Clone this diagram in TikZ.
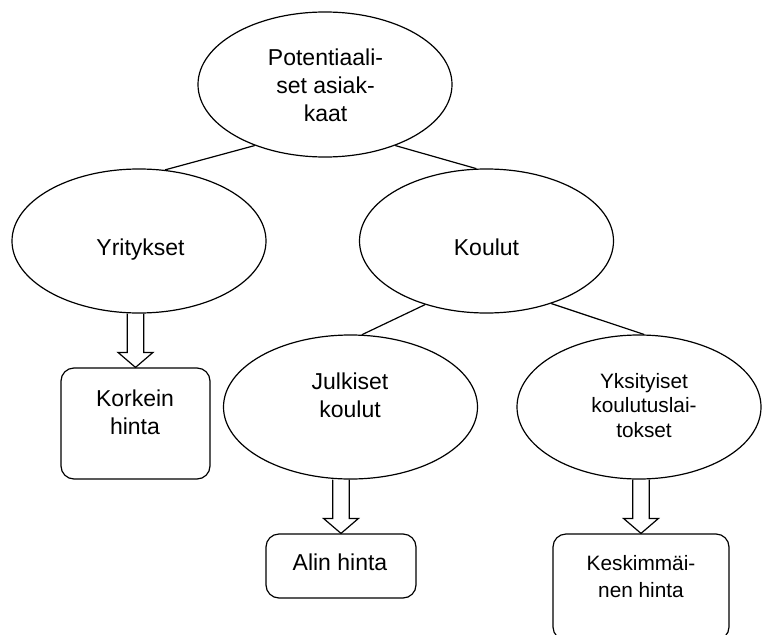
\documentclass[tikz,border=0pt]{standalone}
\usepackage{fontspec}
\setmainfont{Liberation Sans}
\usetikzlibrary{shapes.geometric,calc}
\tikzset{
  ell/.style={draw, ellipse, line width=1.2pt, inner sep=0pt, minimum width=254pt, minimum height=144pt},
  rbox/.style={draw, rectangle, rounded corners=13pt, line width=1.2pt, inner sep=0pt},
  lbl/.style={anchor=base, align=center, inner sep=0pt, font=\fontsize{23}{27.5}\selectfont},
  slbl/.style={anchor=base, align=center, inner sep=0pt, font=\fontsize{20.8}{24.5}\selectfont},
  sklbl/.style={anchor=base, align=center, inner sep=0pt, font=\fontsize{20.8}{27}\selectfont},
  conn/.style={line width=1.2pt},
  barrow/.style={line width=1.2pt, line join=miter},
}
\newcommand\blkarrow[2]{%
  \draw[barrow] let \p1=(#2.north), \p2=(#1.south) in
    (\x1-8.25pt,\y2) -- (\x1-8.25pt,\y1+15pt) -- (\x1-17.5pt,\y1+15pt) -- (\x1,\y1)
    -- (\x1+17.5pt,\y1+15pt) -- (\x1+8.25pt,\y1+15pt) -- (\x1+8.25pt,\y2);}
\begin{document}
\begin{tikzpicture}[x=1pt, y=-1pt]
\useasboundingbox (0,0) rectangle (762,634);
\clip (0,0) rectangle (762,634);
% ellipses
\node[ell, minimum height=145pt] (top) at (325,84.5) {};
\node[ell] (yr) at (139,241) {};
\node[ell] (ko) at (486.5,241) {};
\node[ell] (ju) at (350.5,407) {};
\node[ell, minimum width=244pt] (yk) at (639,407) {};
% boxes
\node[rbox, minimum width=149pt, minimum height=111pt] (kb) at (135.5,423.5) {};
\node[rbox, minimum width=150pt, minimum height=64pt] (ab) at (341,566) {};
\node[rbox, minimum width=176pt, minimum height=106pt] (keb) at (641,587) {};
% connectors
\draw[conn] (top.221) -- (yr.70);
\draw[conn] (top.319) -- (ko.98);
\draw[conn] (ko.226) -- (ju.81);
\draw[conn] (ko.316.6) -- (yk.86);
% block arrows
\blkarrow{yr}{kb}
\blkarrow{ju}{ab}
\blkarrow{yk}{keb}
% labels (anchor = baseline of the last line)
\node[lbl] (tTop) at (325.5,121) {Potentiaali-\\set asiak-\\kaat};
\node[lbl] (tYr) at (140.5,255) {Yritykset};
\node[lbl] (tKo) at (486.5,255) {Koulut};
\node[lbl] (tJu) at (350,417) {Julkiset\\koulut};
\node[slbl] (tYk) at (644,437) {Yksityiset\\koulutuslai-\\tokset};
\node[lbl] (tKb) at (135,434) {Korkein\\hinta};
\node[lbl] (tAb) at (340,570) {Alin hinta};
\node[sklbl] (tKeb) at (641,597) {Keskimmäi-\\nen hinta};
\end{tikzpicture}
\end{document}
